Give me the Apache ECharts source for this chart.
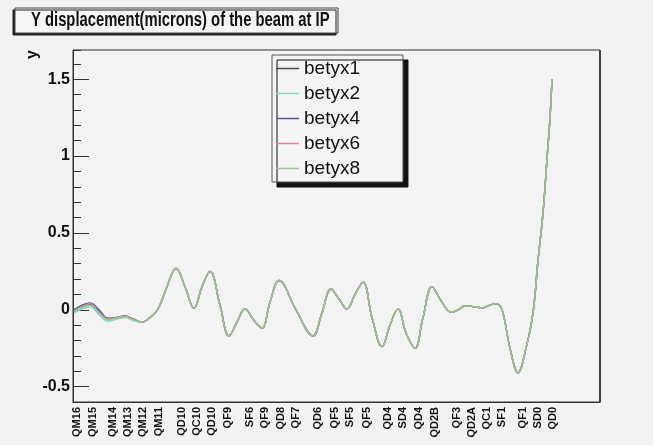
<!DOCTYPE html>
<html>
<head>
<meta charset="utf-8">
<script src="https://cdn.jsdelivr.net/npm/echarts@6/dist/echarts.min.js"></script>
<style>
  html, body { margin: 0; padding: 0; background: #f2f2f2; }
  #main { width: 653px; height: 445px; }
</style>
</head>
<body>
<div id="main"></div>
<script>
// element names along the beamline and where their labels sit
const elemNames = ['QM16', 'QM15', 'QM14', 'QM13', 'QM12', 'QM11', 'QD10', 'QC10', 'QD10', 'QF9',
  'SF6', 'QF9', 'QD8', 'QF7', 'QD6', 'QF5', 'SF5', 'QF5', 'QD4', 'SD4', 'QD4', 'QD2B', 'QF3',
  'QD2A', 'QC1', 'SF1', 'QF1', 'SD0', 'QD0'];
const elemPos = [4, 20, 40, 55, 70, 86, 109, 124, 139, 155, 177, 192, 208, 223, 245, 262, 277, 294,
  315, 330, 346, 362, 384, 399, 414, 429, 450, 465, 480];

// sample positions of the curve
const xPos = [1, 9, 17, 26, 35, 44, 52, 60, 69, 77, 85,
  94, 103, 112, 121, 129, 137, 147, 156, 164, 172, 181, 189, 197, 206, 223, 240, 249, 258, 266,
  274, 282, 290, 299, 309, 317, 325, 333, 342, 350, 359, 368, 378, 385, 392, 401, 410, 417, 423,
  429, 437, 445, 453, 460, 465, 470, 474, 477, 479];

// first part, where the runs differ a little
const headX1 = [-0.01, 0.02, 0.035, -0.01, -0.06, -0.05, -0.04, -0.06, -0.08, -0.05, 0.005];
const headX2 = [-0.02, 0.005, 0.02, -0.03, -0.075, -0.06, -0.05, -0.07, -0.08, -0.05, 0.005];
const headX4 = [0.0, 0.03, 0.045, 0.0, -0.055, -0.05, -0.04, -0.06, -0.08, -0.05, 0.005];
const headX6 = [-0.01, 0.02, 0.04, -0.015, -0.06, -0.05, -0.04, -0.06, -0.08, -0.05, 0.005];
const headX8 = [-0.01, 0.015, 0.03, -0.02, -0.065, -0.055, -0.045, -0.065, -0.08, -0.05, 0.005];

// rest of the line, the same for every run
const yTail = [0.15, 0.27, 0.15, 0.01, 0.15, 0.25, 0.03, -0.17, -0.08, 0.006, -0.07, -0.12, 0.05,
  0.19, 0.0, -0.17, -0.02, 0.135, 0.07, 0.006, 0.1, 0.18, -0.05, -0.24, -0.1, 0.006, -0.15, -0.25,
  -0.05, 0.15, 0.06, -0.015, 0.0, 0.025, 0.02, 0.013, 0.03, 0.04, 0.0, -0.25, -0.41, -0.25, -0.02,
  0.32, 0.63, 0.98, 1.25, 1.5];

const seriesNames = ['betyx1', 'betyx2', 'betyx4', 'betyx6', 'betyx8'];
const seriesHeads = [headX1, headX2, headX4, headX6, headX8];
const seriesColors = ['#4a4a4a', '#7fd8c6', '#5b5b9c', '#d98796', '#96c78c'];

const majorTicks = [-0.5, 0, 0.5, 1, 1.5];

function makeData(head) {
  const ys = head.concat(yTail);
  return xPos.map((x, i) => [x, ys[i]]);
}

var myChart = echarts.init(document.getElementById('main'));

var series = seriesNames.map((name, i) => ({
  name: name,
  type: 'line',
  data: makeData(seriesHeads[i]),
  symbol: 'none',
  smooth: 0.4,
  color: seriesColors[i],
  lineStyle: { width: 1.4, color: seriesColors[i] },
  z: 2 + i
}));

var option = {
  backgroundColor: '#f2f2f2',
  animation: false,
  graphic: [
    {
      type: 'rect',
      shape: { x: 15, y: 8, width: 323, height: 25 },
      style: { fill: '#f5f5f5', stroke: '#444', lineWidth: 1, shadowColor: '#222', shadowOffsetX: -2, shadowOffsetY: 2, shadowBlur: 0 },
      z: 10
    },
    {
      // title, squeezed sideways like the original
      type: 'text',
      x: 31,
      y: 10,
      scaleX: 0.74,
      z: 11,
      style: {
        text: 'Y displacement(microns) of the beam at IP',
        font: 'bold 20px "Liberation Sans", Arial, sans-serif',
        fill: '#111'
      }
    },
    {
      type: 'text',
      x: 25,
      y: 59,
      rotation: Math.PI / 2,
      style: { text: 'y', font: 'bold 16px "Liberation Sans", Arial, sans-serif', fill: '#111' }
    },
    {
      type: 'line',
      shape: { x1: 600, y1: 50, x2: 600, y2: 402 },
      style: { stroke: '#444', lineWidth: 2 },
      z: 10
    }
  ],
  legend: {
    data: seriesNames,
    orient: 'vertical',
    left: 272,
    top: 55,
    icon: 'rect',
    itemWidth: 23,
    itemHeight: 1.5,
    itemGap: 6,
    padding: [4, 43, 4, 4],
    backgroundColor: '#f4f4f4',
    borderColor: '#555',
    borderWidth: 1,
    shadowColor: '#111',
    shadowOffsetX: 5,
    shadowOffsetY: 5,
    shadowBlur: 0,
    textStyle: { fontSize: 19, color: '#111', fontFamily: '"Liberation Sans", Arial, sans-serif' }
  },
  grid: {
    left: 73,
    right: 53,
    top: 50,
    bottom: 43,
    show: true,
    borderColor: '#333',
    borderWidth: 1,
    backgroundColor: '#f3f3f3'
  },
  xAxis: {
    type: 'value',
    min: 0,
    max: 527,
    splitLine: { show: false },
    axisLine: { onZero: false, lineStyle: { color: '#333' } },
    axisTick: { show: false },
    axisLabel: {
      customValues: elemPos,
      rotate: 90,
      margin: 5,
      fontSize: 11,
      fontWeight: 'bold',
      color: '#111',
      fontFamily: '"Liberation Sans", Arial, sans-serif',
      formatter: function (v) {
        var idx = elemPos.indexOf(v);
        return idx >= 0 ? elemNames[idx] : '';
      }
    }
  },
  yAxis: [
    {
      type: 'value',
      min: -0.6,
      max: 1.69,
      interval: 0.1,
      splitLine: { show: false },
      axisLine: { show: true, lineStyle: { color: '#333' } },
      axisTick: { show: true, inside: true, length: 8, lineStyle: { color: '#333' } },
      axisLabel: {
        customValues: majorTicks,
        margin: 3,
        fontSize: 16,
        fontWeight: 'bold',
        color: '#111',
        fontFamily: '"Liberation Sans", Arial, sans-serif'
      }
    },
    {
      type: 'value',
      min: -0.6,
      max: 1.69,
      position: 'left',
      splitLine: { show: false },
      axisLine: { show: false },
      axisTick: { show: true, inside: true, length: 16, customValues: majorTicks, lineStyle: { color: '#333' } },
      axisLabel: { show: false }
    }
  ],
  series: series
};

myChart.setOption(option);
</script>
</body>
</html>
